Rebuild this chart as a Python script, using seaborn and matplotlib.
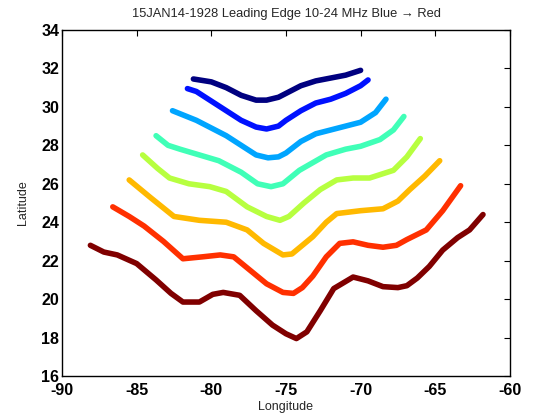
import numpy as np
import pandas as pd
import matplotlib
matplotlib.use("Agg")
import matplotlib.pyplot as plt
import seaborn as sns

# Curve data (longitude, latitude), from 10 MHz (blue) to 24 MHz (red)
lon1 = [-81.2, -80.0, -79.0, -78.0, -77.0, -76.3, -75.5, -75.0, -74.0, -73.0, -72.0, -71.0, -70.0]
lat1 = [31.45, 31.3, 31.0, 30.6, 30.35, 30.35, 30.5, 30.7, 31.1, 31.35, 31.5, 31.65, 31.9]

lon2 = [-81.6, -81.0, -80.0, -79.0, -78.0, -77.0, -76.3, -75.5, -75.0, -74.0, -73.0, -72.0, -71.0, -70.0, -69.5]
lat2 = [30.95, 30.8, 30.3, 29.8, 29.3, 28.95, 28.85, 29.0, 29.3, 29.8, 30.2, 30.4, 30.7, 31.1, 31.4]

lon3 = [-82.6, -81.0, -80.0, -79.0, -78.0, -77.0, -76.2, -75.5, -75.0, -74.0, -73.0, -72.0, -71.0, -70.0, -69.0, -68.3]
lat3 = [29.8, 29.3, 28.9, 28.5, 28.0, 27.5, 27.35, 27.4, 27.6, 28.2, 28.6, 28.8, 29.0, 29.2, 29.7, 30.4]

lon4 = [-83.7, -82.9, -82.1, -80.8, -79.5, -78.0, -76.9, -76.0, -75.2, -74.1, -72.3, -71.0, -70.0, -68.7, -67.8, -67.1]
lat4 = [28.5, 28.0, 27.8, 27.5, 27.2, 26.6, 26.0, 25.85, 26.0, 26.7, 27.5, 27.8, 27.95, 28.3, 28.8, 29.5]

lon5 = [-84.6, -83.6, -82.8, -81.5, -80.1, -79.0, -77.6, -76.3, -75.4, -74.8, -73.8, -72.7, -71.6, -70.5, -69.4, -67.8, -66.9, -66.0]
lat5 = [27.5, 26.8, 26.3, 26.0, 25.85, 25.6, 24.8, 24.3, 24.1, 24.3, 25.0, 25.7, 26.2, 26.3, 26.3, 26.7, 27.4, 28.35]

lon6 = [-85.5, -84.1, -82.5, -80.8, -79.0, -77.6, -76.5, -75.2, -74.6, -73.2, -72.3, -71.6, -70.0, -68.5, -67.5, -66.7, -65.7, -64.7]
lat6 = [26.2, 25.3, 24.3, 24.1, 24.0, 23.6, 22.9, 22.3, 22.35, 23.25, 24.0, 24.45, 24.6, 24.7, 25.1, 25.7, 26.4, 27.2]

lon7 = [-86.6, -85.5, -84.5, -83.2, -81.9, -80.6, -79.4, -78.5, -77.4, -76.3, -75.2, -74.5, -73.9, -73.2, -72.3, -71.4, -70.5, -69.5, -68.5, -67.6, -66.9, -65.6, -64.5, -63.3]
lat7 = [24.8, 24.3, 23.8, 23.0, 22.1, 22.2, 22.3, 22.2, 21.5, 20.8, 20.35, 20.3, 20.6, 21.2, 22.2, 22.9, 22.98, 22.8, 22.7, 22.8, 23.1, 23.6, 24.6, 25.9]

lon8 = [-88.1, -87.2, -86.3, -85.0, -83.7, -82.7, -81.9, -80.8, -79.9, -79.2, -78.1, -77.0, -75.9, -75.0, -74.3, -73.6, -72.7, -71.8, -70.5, -69.5, -68.5, -67.5, -66.9, -66.2, -65.4, -64.5, -63.5, -62.7, -61.8]
lat8 = [22.8, 22.45, 22.3, 21.85, 21.0, 20.3, 19.85, 19.85, 20.25, 20.35, 20.2, 19.4, 18.65, 18.2, 17.95, 18.3, 19.4, 20.55, 21.15, 20.95, 20.65, 20.6, 20.7, 21.1, 21.7, 22.55, 23.2, 23.6, 24.4]

curves = [(lon1, lat1), (lon2, lat2), (lon3, lat3), (lon4, lat4),
          (lon5, lat5), (lon6, lat6), (lon7, lat7), (lon8, lat8)]

x_ticks = [-90, -85, -80, -75, -70, -65, -60]
y_ticks = [16, 18, 20, 22, 24, 26, 28, 30, 32, 34]

rows = []
for i, (lo, la) in enumerate(curves):
    for j, (a, b) in enumerate(zip(lo, la)):
        rows.append({"Longitude": a, "Latitude": b, "curve": i, "order": j})
df = pd.DataFrame(rows)

sns.set_theme(style="white")
plt.rcParams['font.family'] = ['Liberation Sans', 'DejaVu Sans']

palette = [matplotlib.colormaps['jet'](v) for v in np.linspace(0, 1, len(curves))]

fig = plt.figure(figsize=(5.37, 4.16), dpi=100)
ax = fig.add_axes([0.1155, 0.096, 0.834, 0.832])

sns.lineplot(data=df, x="Longitude", y="Latitude", hue="curve", units="curve",
             estimator=None, sort=False, palette=palette, linewidth=4.0,
             legend=False, ax=ax)

ax.set_xlim(-90, -60)
ax.set_ylim(16, 34)
ax.set_xticks(x_ticks)
ax.set_yticks(y_ticks)
ax.set_xticklabels([str(t) for t in x_ticks], fontsize=11.5, fontweight='bold')
ax.set_yticklabels([str(t) for t in y_ticks], fontsize=11.5, fontweight='bold')
ax.tick_params(axis='x', direction='in', top=True, length=4, width=0.8, pad=5, colors='black')
ax.tick_params(axis='y', direction='in', right=True, length=4, width=0.8, pad=2, colors='black')
for s in ax.spines.values():
    s.set_color('black')
    s.set_linewidth(1.0)
ax.set_xlabel("Longitude", fontsize=9, labelpad=2)
ax.set_ylabel("Latitude", fontsize=9, labelpad=9)
ax.set_title("15JAN14-1928 Leading Edge 10-24 MHz Blue \u2192 Red", fontsize=9.3, pad=9)

fig.savefig("out.png", dpi=100)
